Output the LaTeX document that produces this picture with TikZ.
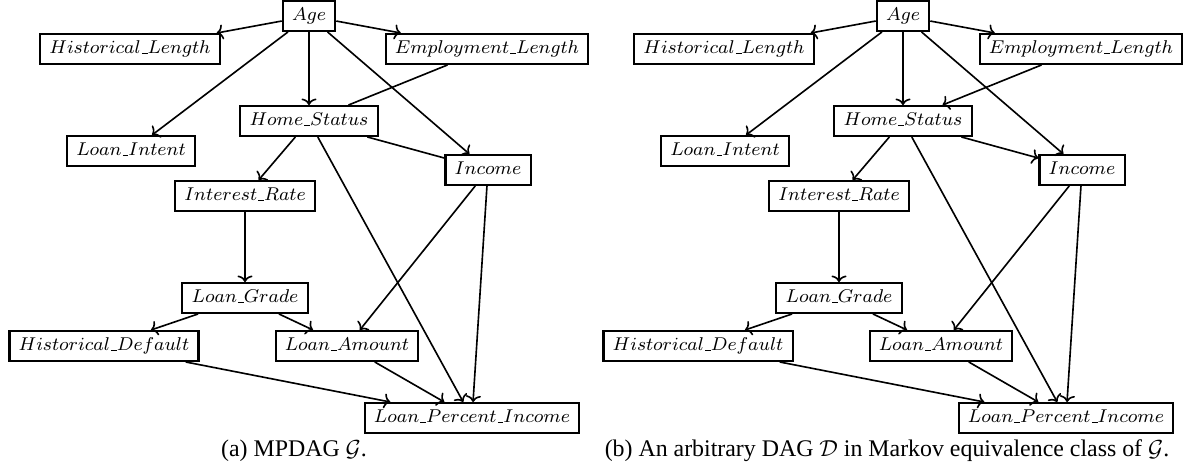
\documentclass[tikz,border=0pt]{standalone}
\usepackage{fontspec}
\usetikzlibrary{arrows.meta}
\newfontfamily\capfont{Liberation Serif}
\newcommand{\us}{\kern.06em\vbox{\hrule width.3em}}
\tikzset{
  var/.style={draw, line width=0.9pt, inner xsep=4pt, inner ysep=2.4pt,
    text height=6.2pt, text depth=1.9pt, font=\fontsize{8.2}{10}\selectfont},
  edge/.style={line width=0.7pt},
  dedge/.style={edge, -{To[length=2.8pt,width=6.5pt]}},
  subcap/.style={anchor=base, font=\capfont\fontsize{10.3}{12}\selectfont}
}
\begin{document}
\begin{tikzpicture}[x=0.4316pt, y=0.4316pt]
\useasboundingbox (0,0) rectangle (1190,-463);
% (a) MPDAG
\node [var] (aAge) at (309,-16) {$Age$};
\node [var] (aHL) at (130,-49) {$Historical\us Length$};
\node [var] (aEL) at (487,-49) {$Employment\us Length$};
\node [var] (aHS) at (309,-121) {$Home\us Status$};
\node [var] (aLI) at (131,-151) {$Loan\us Intent$};
\node [var] (aInc) at (488,-170) {$Income$};
\node [var] (aIR) at (245,-196) {$Interest\us Rate$};
\node [var] (aLG) at (245,-298) {$Loan\us Grade$};
\node [var] (aHD) at (104,-346) {$Historical\us Default$};
\node [var] (aLA) at (347,-346) {$Loan\us Amount$};
\node [var] (aLPI) at (472,-418) {$Loan\us Percent\us Income$};
\draw [dedge] (aAge) -- (aHL);
\draw [dedge] (aAge) -- (aEL);
\draw [dedge] (aAge) -- (aLI);
\draw [dedge] (aAge) -- (aHS);
\draw [dedge] (aAge) -- (aInc);
\draw [edge] (aEL) -- (aHS);
\draw [edge] (aHS) -- (aInc);
\draw [dedge] (aHS) -- (aIR);
\draw [dedge] (aHS) -- (aLPI);
\draw [dedge] (aIR) -- (aLG);
\draw [dedge] (aLG) -- (aHD);
\draw [dedge] (aLG) -- (aLA);
\draw [dedge] (aInc) -- (aLA);
\draw [dedge] (aInc) -- (aLPI);
\draw [dedge] (aHD) -- (aLPI);
\draw [dedge] (aLA) -- (aLPI);
\node [subcap] (acap) at (294,-456) {(a) MPDAG $\mathcal{G}$.};
% (b) a DAG in the equivalence class
\node [var] (bAge) at (903,-16) {$Age$};
\node [var] (bHL) at (724,-49) {$Historical\us Length$};
\node [var] (bEL) at (1081,-49) {$Employment\us Length$};
\node [var] (bHS) at (903,-121) {$Home\us Status$};
\node [var] (bLI) at (725,-151) {$Loan\us Intent$};
\node [var] (bInc) at (1082,-170) {$Income$};
\node [var] (bIR) at (839,-196) {$Interest\us Rate$};
\node [var] (bLG) at (839,-298) {$Loan\us Grade$};
\node [var] (bHD) at (698,-346) {$Historical\us Default$};
\node [var] (bLA) at (941,-346) {$Loan\us Amount$};
\node [var] (bLPI) at (1066,-418) {$Loan\us Percent\us Income$};
\draw [dedge] (bAge) -- (bHL);
\draw [dedge] (bAge) -- (bEL);
\draw [dedge] (bAge) -- (bLI);
\draw [dedge] (bAge) -- (bHS);
\draw [dedge] (bAge) -- (bInc);
\draw [dedge] (bEL) -- (bHS);
\draw [dedge] (bHS) -- (bInc);
\draw [dedge] (bHS) -- (bIR);
\draw [dedge] (bHS) -- (bLPI);
\draw [dedge] (bIR) -- (bLG);
\draw [dedge] (bLG) -- (bHD);
\draw [dedge] (bLG) -- (bLA);
\draw [dedge] (bInc) -- (bLA);
\draw [dedge] (bInc) -- (bLPI);
\draw [dedge] (bHD) -- (bLPI);
\draw [dedge] (bLA) -- (bLPI);
\node [subcap] (bcap) at (887,-456) {(b) An arbitrary DAG $\mathcal{D}$ in Markov equivalence class of $\mathcal{G}$.};
\end{tikzpicture}
\end{document}
